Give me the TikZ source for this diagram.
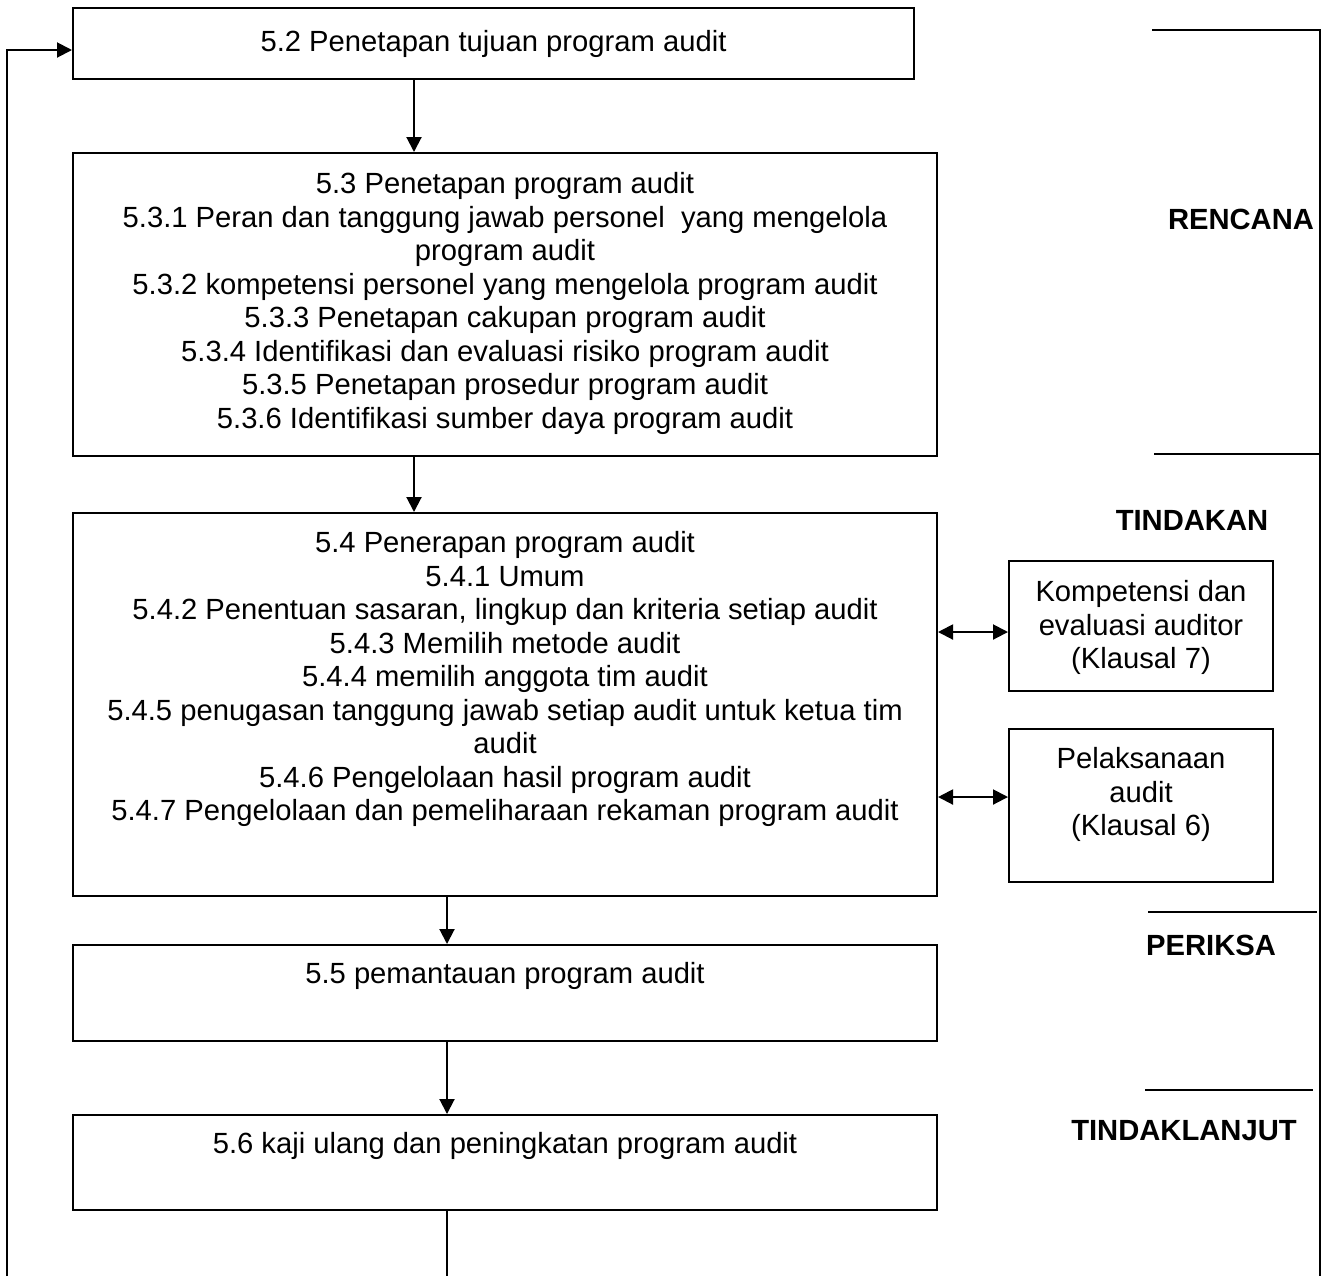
\documentclass[tikz,border=0pt]{standalone}
\usepackage{fontspec}
\setmainfont{Liberation Sans}
\usetikzlibrary{arrows.meta,fit}
\begin{document}
\begin{tikzpicture}[x=0.5pt,y=-0.5pt,
  box/.style={draw, line width=1pt, inner sep=0pt},
  txt/.style={font=\fontsize{14.6}{16.75}\selectfont, align=center, inner sep=0pt, anchor=north},
  lbl/.style={font=\fontsize{14.6}{16.75}\selectfont\bfseries, inner sep=0pt},
  arr/.style={line width=1pt, -{Triangle[length=7.5pt,width=7.5pt]}},
  darr/.style={line width=1pt, {Triangle[length=7.5pt,width=7.5pt]}-{Triangle[length=7.5pt,width=7.5pt]}},
  ln/.style={line width=1pt}]
\useasboundingbox (0,0) rectangle (1327,1276);
% boxes
\node[box, fit={(73,8) (914,79)}] (b1) {};
\node[box, fit={(73,153) (937,456)}] (b2) {};
\node[box, fit={(73,513) (937,896)}] (b3) {};
\node[box, fit={(73,945) (937,1041)}] (b4) {};
\node[box, fit={(73,1115) (937,1210)}] (b5) {};
\node[box, fit={(1009,561) (1273,691)}] (sa) {};
\node[box, fit={(1009,729) (1273,882)}] (sb) {};
% texts
\node[txt] (t1) at (493.5,30) {5.2 Penetapan tujuan program audit};
\node[txt] (t2) at (505,172) {5.3 Penetapan program audit\\
5.3.1 Peran dan tanggung jawab personel\ \ yang mengelola\\ program audit\\
5.3.2 kompetensi personel yang mengelola program audit\\
5.3.3 Penetapan cakupan program audit\\
5.3.4 Identifikasi dan evaluasi risiko program audit\\
5.3.5 Penetapan prosedur program audit\\
5.3.6 Identifikasi sumber daya program audit};
\node[txt] (t3) at (505,531) {5.4 Penerapan program audit\\
5.4.1 Umum\\
5.4.2 Penentuan sasaran, lingkup dan kriteria setiap audit\\
5.4.3 Memilih metode audit\\
5.4.4 memilih anggota tim audit\\
5.4.5 penugasan tanggung jawab setiap audit untuk ketua tim\\ audit\\
5.4.6 Pengelolaan hasil program audit\\
5.4.7 Pengelolaan dan pemeliharaan rekaman program audit};
\node[txt] (t4) at (505,962) {5.5 pemantauan program audit};
\node[txt] (t5) at (505,1132) {5.6 kaji ulang dan peningkatan program audit};
\node[txt] (ta) at (1141,580) {Kompetensi dan\\ evaluasi auditor\\ (Klausal 7)};
\node[txt] (tb) at (1141,747) {Pelaksanaan\\ audit\\ (Klausal 6)};
% phase labels
\node[lbl] (l1) at (1241,219) {RENCANA};
\node[lbl] (l2) at (1192,520) {TINDAKAN};
\node[lbl] (l3) at (1211,945) {PERIKSA};
\node[lbl] (l4) at (1184,1131) {TINDAKLANJUT};
% connector helpers
\coordinate (xa) at (414,0);
\coordinate (xb) at (447,0);
\coordinate (ya) at (0,632);
\coordinate (yb) at (0,797);
\coordinate (bot) at (447,1276);
\coordinate (lb) at (7,1276);
\coordinate (lt) at (7,50);
% flow arrows
\draw[arr] (b1.south -| xa) -- (b2.north -| xa);
\draw[arr] (b2.south -| xa) -- (b3.north -| xa);
\draw[arr] (b3.south -| xb) -- (b4.north -| xb);
\draw[arr] (b4.south -| xb) -- (b5.north -| xb);
\draw[ln] (b5.south -| xb) -- (bot);
\draw[arr] (lb) -- (lt) -- (b1.west |- lt);
\draw[darr] (b3.east |- ya) -- (sa.west |- ya);
\draw[darr] (b3.east |- yb) -- (sb.west |- yb);
% right bracket lines
\coordinate (r0) at (1320,30);
\coordinate (r1) at (1320,1276);
\coordinate (h1a) at (1152,30);
\coordinate (h2a) at (1154,454);
\coordinate (h2b) at (1320,454);
\coordinate (h3a) at (1148,912);
\coordinate (h3b) at (1317,912);
\coordinate (h4a) at (1145,1090);
\coordinate (h4b) at (1313,1090);
\draw[ln] (h1a) -- (r0) -- (r1);
\draw[ln] (h2a) -- (h2b);
\draw[ln] (h3a) -- (h3b);
\draw[ln] (h4a) -- (h4b);
\end{tikzpicture}
\end{document}
